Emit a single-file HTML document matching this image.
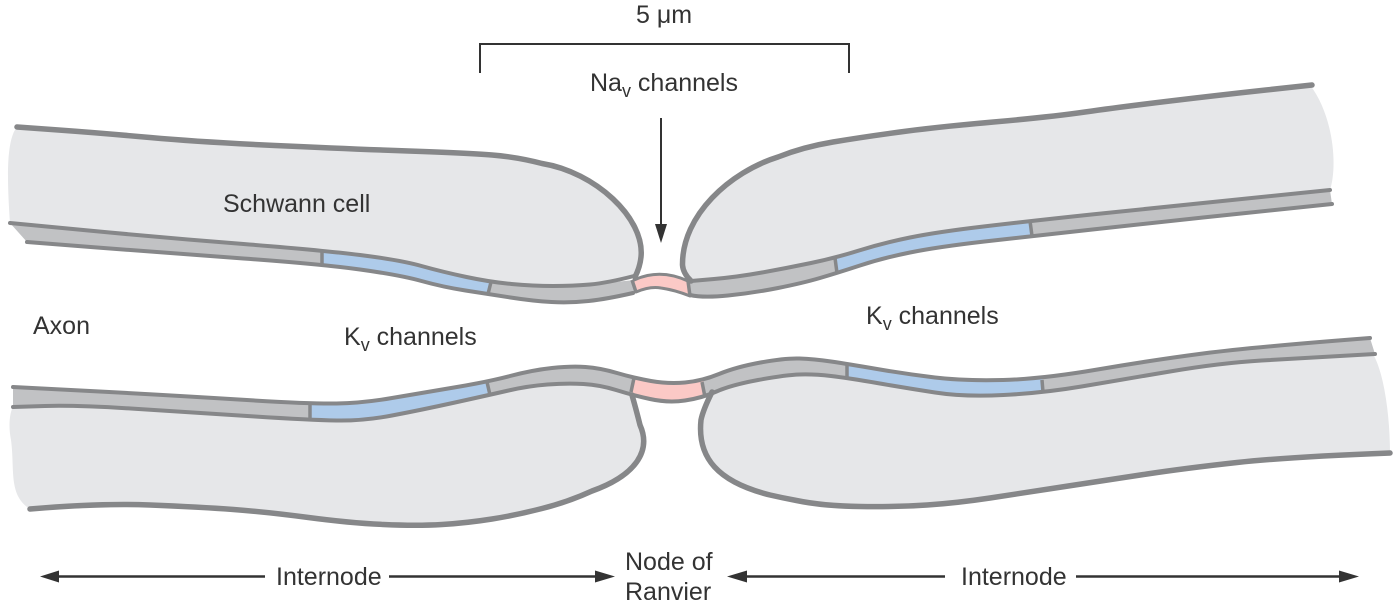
<!DOCTYPE html>
<html><head><meta charset="utf-8"><style>
html,body{margin:0;padding:0;background:#fff;width:1400px;height:605px;overflow:hidden}
svg{display:block}
text{font-family:"Liberation Sans",sans-serif;font-size:25px;fill:#333}
.o{fill:none;stroke:#868789;stroke-width:5.5;stroke-linecap:round;stroke-linejoin:round}
.t{stroke-width:4}
.p{stroke-width:3}
.d{fill:none;stroke:#868789;stroke-width:3.5}
.l{stroke:#333;stroke-width:2.5;fill:none}
.b{stroke:#333;stroke-width:2;fill:none}
.h{fill:#333}
.c{fill:#e6e7e9}
</style></head><body>
<svg width="1400" height="605" viewBox="0 0 1400 605" xmlns="http://www.w3.org/2000/svg">
<defs>
<clipPath id="u"><path d="M10 223 L88.5 230.5 Q167 238 243.5 244 Q320 250 360 255 Q400 260 421.5 266 Q443 272 466.5 277 Q490 282 511.5 284 Q533 286 553 286 Q573 286 590 284.5 Q607 283 634 280 Q660 268 691 281 L714 279 Q737 277 762 272.5 Q787 268 811 263 Q835 258 859 250.5 Q883 243 910 237.5 Q937 232 983.5 226.5 Q1030 221 1091.5 214.5 Q1153 208 1203 203 Q1253 198 1330 190 L1332 204 Q1253 212 1203 217.5 Q1153 223 1092.5 229.5 Q1032 236 984.5 241.5 Q937 247 910 252.5 Q883 258 860 265.5 Q837 273 820 278 Q803 283 778 288 Q753 293 728 295.5 Q703 298 690 296 Q675 290 661 288 Q650 286 636 292 L633 293 Q607 299 588.5 301 Q570 303 551.5 302 Q533 301 510.5 297.5 Q488 294 465.5 290.5 Q443 287 421.5 281 Q400 275 360 269.5 Q320 264 243.5 258.5 Q167 253 97 247.5 L27 242 Z"/></clipPath>
<clipPath id="w"><path d="M13 387 L90 391 Q167 395 238.5 399.5 Q310 404 336.5 403.5 Q363 403 392 398 Q421 393 454 387.5 Q487 382 510 376 Q533 370 552 368 Q571 366 585.5 367 Q600 368 617 373 Q634 378 651 381 Q668 384 685 382.5 Q702 381 719 374 Q736 367 760.5 362.5 Q785 358 799.5 358.5 Q814 359 831 361.5 Q848 364 877 369 Q906 374 935 377.5 Q964 381 1003 380 Q1042 379 1097.5 369.5 Q1153 360 1203 353.5 Q1253 347 1370 338 L1375 354 Q1303 358 1261.5 360.5 Q1220 363 1170 371.5 Q1120 380 1081.5 386.5 Q1043 393 1003.5 395 Q964 397 935 392.5 Q906 388 877 383 Q848 378 831 376 Q814 374 799.5 374.5 Q785 375 758 380 Q731 385 716.5 391.5 Q702 398 685 400.5 Q668 403 650 399 Q632 395 616 390 Q600 385 583.5 384 Q567 383 547.5 384.5 Q528 386 508.5 390.5 Q489 395 455 402.5 Q421 410 392 415.5 Q363 421 336.5 420.5 Q310 420 255 416.5 Q200 413 138.5 409 Q77 405 45 406 L13 407 Z"/></clipPath>
</defs>
<!-- Axon bands -->
<g clip-path="url(#u)">
<rect x="0" y="150" width="1400" height="170" fill="#c1c2c4"/>
<polygon fill="#aecbea" points="322,240 491,270 488,305 322,275"/>
<polygon fill="#aecbea" points="835,250 1030,210 1032,245 837,285"/>
<polygon fill="#fbc9c6" points="633,265 689,265 691,305 636,305"/>
</g>
<g clip-path="url(#w)">
<rect x="0" y="320" width="1400" height="120" fill="#c1c2c4"/>
<polygon fill="#aecbea" points="310,395 487,372 490,405 310,430"/>
<polygon fill="#fbc9c6" points="634,365 702,365 706,410 631,410"/>
<polygon fill="#aecbea" points="847,355 1042,370 1043,405 847,385"/>
</g>
<!-- Schwann cell fills -->
<path class="c" d="M17 127 L58.5 130 Q100 133 150 137.5 Q200 142 275 145.5 Q350 149 408.5 151 Q467 153 492 155 Q517 157 542 163.5 C595 172 645 218 641 257 Q640 267 635 277 L634 276 Q607 283 590 284.5 Q573 286 553 286 Q533 286 511.5 284 Q490 282 466.5 277 Q443 272 421.5 266 Q400 260 360 255 Q320 250 243.5 244 Q167 238 88.5 230.5 L10 223 C7 180 6 140 17 127Z"/>
<path class="c" d="M1312 85 L1266 90 Q1220 95 1170 101 Q1120 107 1085 112 Q1050 117 993.5 122 Q937 127 900 132 Q863 137 833 142 Q803 147 778 157 C730 172 682 215 682.5 265 Q683 273 691 281 L714 279 Q737 277 762 272.5 Q787 268 811 263 Q835 258 859 250.5 Q883 243 910 237.5 Q937 232 983.5 226.5 Q1030 221 1091.5 214.5 Q1153 208 1203 203 Q1253 198 1330 190 C1338 165 1333 115 1310 85Z"/>
<path class="c" d="M13 407 L45 406 Q77 405 138.5 409 Q200 413 255 416.5 Q310 420 336.5 420.5 Q363 421 392 415.5 Q421 410 455 402.5 Q489 395 508.5 390.5 Q528 386 547.5 384.5 Q567 383 583.5 384 Q600 385 616 390 L632 395 L634.5 404 Q637 413 640 425 C652 452 634 476 592 491 Q568 502 542 508.5 Q517 515 492 519 Q467 523 442 524.5 Q417 526 383.5 524.5 Q350 523 308.5 517.5 Q267 512 233.5 509.5 Q200 507 150 505 Q100 503 30 509 C8 495 15 470 11 440 C8 425 10 412 13 407Z"/>
<path class="c" d="M712 392 Q703 410 701 420 C697 458 718 482 770 495 Q783 498 796.5 500.5 Q823 506 860 506.5 Q897 507 927 505 Q957 503 990 498 Q1023 493 1065 486.5 Q1107 480 1147 474 Q1187 468 1237 462.5 Q1287 457 1390 453 C1390 420 1385 375 1373 354 Q1303 358 1261.5 360.5 Q1220 363 1170 371.5 Q1120 380 1081.5 386.5 Q1043 393 1003.5 395 Q964 397 935 392.5 Q906 388 877 383 Q848 378 831 376 Q814 374 799.5 374.5 Q785 375 758 380 Q731 385 716.5 391.5Z"/>
<!-- Upper outlines -->
<path class="o" d="M17 127 L58.5 130 Q100 133 150 137.5 Q200 142 275 145.5 Q350 149 408.5 151 Q467 153 492 155 Q517 157 542 163.5 C595 172 645 218 641 257 Q640 267 635 277"/>
<path class="o t" d="M10 223 L88.5 230.5 Q167 238 243.5 244 Q320 250 360 255 Q400 260 421.5 266 Q443 272 466.5 277 Q490 282 511.5 284 Q533 286 553 286 Q573 286 590 284.5 Q607 283 634 276"/>
<path class="o t" d="M27 242 L97 247.5 Q167 253 243.5 258.5 Q320 264 360 269.5 Q400 275 421.5 281 Q443 287 465.5 290.5 Q488 294 510.5 297.5 Q533 301 551.5 302 Q570 303 588.5 301 Q607 299 633 293"/>
<path class="o" d="M1312 85 L1266 90 Q1220 95 1170 101 Q1120 107 1085 112 Q1050 117 993.5 122 Q937 127 900 132 Q863 137 833 142 Q803 147 778 157 C730 172 682 215 682.5 265 Q683 273 691 281"/>
<path class="o t" d="M691 281 L714 279 Q737 277 762 272.5 Q787 268 811 263 Q835 258 859 250.5 Q883 243 910 237.5 Q937 232 983.5 226.5 Q1030 221 1091.5 214.5 Q1153 208 1203 203 Q1253 198 1330 190"/>
<path class="o t" d="M690 295 Q703 298 728 295.5 Q753 293 778 288 Q803 283 820 278 Q837 273 860 265.5 Q883 258 910 252.5 Q937 247 984.5 241.5 Q1032 236 1092.5 229.5 Q1153 223 1203 217.5 Q1253 212 1332 204"/>
<path class="o p" d="M634 280 Q660 268 688 281"/>
<path class="o p" d="M636 292 Q650 286 661 288 Q675 290 690 296"/>
<path class="d" d="M322 250V264M491 282L488 294M632 280L636 292M688 281L690 296M835 258L837 273M1030 221L1032 236"/>
<!-- Lower outlines -->
<path class="o t" d="M13 387 L90 391 Q167 395 238.5 399.5 Q310 404 336.5 403.5 Q363 403 392 398 Q421 393 454 387.5 Q487 382 510 376 Q533 370 552 368 Q571 366 585.5 367 Q600 368 617 373 Q634 378 651 381 Q668 384 685 382.5 Q702 381 719 374 Q736 367 760.5 362.5 Q785 358 799.5 358.5 Q814 359 831 361.5 Q848 364 877 369 Q906 374 935 377.5 Q964 381 1003 380 Q1042 379 1097.5 369.5 Q1153 360 1203 353.5 Q1253 347 1370 338"/>
<path class="o t" d="M13 407 L45 406 Q77 405 138.5 409 Q200 413 255 416.5 Q310 420 336.5 420.5 Q363 421 392 415.5 Q421 410 455 402.5 Q489 395 508.5 390.5 Q528 386 547.5 384.5 Q567 383 583.5 384 Q600 385 616 390 Q632 395 650 399 Q668 403 685 400.5 Q702 398 716.5 391.5 Q731 385 758 380 Q785 375 799.5 374.5 Q814 374 831 376 Q848 378 877 383 Q906 388 935 392.5 Q964 397 1003.5 395 Q1043 393 1081.5 386.5 Q1120 380 1170 371.5 Q1220 363 1261.5 360.5 Q1303 358 1375 354"/>
<path class="o" d="M632 395 L634.5 404 Q637 413 640 425 C652 452 634 476 592 491 Q568 502 542 508.5 Q517 515 492 519 Q467 523 442 524.5 Q417 526 383.5 524.5 Q350 523 308.5 517.5 Q267 512 233.5 509.5 Q200 507 150 505 Q100 503 30 509"/>
<path class="o" d="M712 392 Q703 410 701 420 C697 458 718 482 770 495 Q783 498 796.5 500.5 Q823 506 860 506.5 Q897 507 927 505 Q957 503 990 498 Q1023 493 1065 486.5 Q1107 480 1147 474 Q1187 468 1237 462.5 Q1287 457 1390 453"/>
<path class="d" d="M310 404V420M487 382L490 395M634 378L631 392M702 382L705 397M847 364V377M1042 380L1043 392"/>
<!-- Bracket and arrows -->
<path class="b" d="M480 73V44H849V73"/>
<path class="b" d="M661 118V228"/>
<path class="h" d="M655 224H667L661 243Z"/>
<path class="l" d="M55 576.5H265M389 576.5H600M745 576.5H945M1076 576.5H1345"/>
<path class="h" d="M40 576.5L59 570.5V582.5Z M615 576.5L595 570.5V582.5Z M727 576.5L747 570.5V582.5Z M1359 576.5L1339 570.5V582.5Z"/>
<!-- Labels -->
<text x="636" y="23">5 μm</text>
<text x="590" y="91">Na<tspan font-size="18" dy="6">v</tspan><tspan dy="-6"> channels</tspan></text>
<text x="223" y="212">Schwann cell</text>
<text x="33" y="334">Axon</text>
<text x="344" y="345">K<tspan font-size="18" dy="6">v</tspan><tspan dy="-6"> channels</tspan></text>
<text x="866" y="324">K<tspan font-size="18" dy="6">v</tspan><tspan dy="-6"> channels</tspan></text>
<text x="276" y="585">Internode</text>
<text x="961" y="585">Internode</text>
<text x="625" y="570">Node of</text>
<text x="625" y="600">Ranvier</text>
</svg>
</body></html>
